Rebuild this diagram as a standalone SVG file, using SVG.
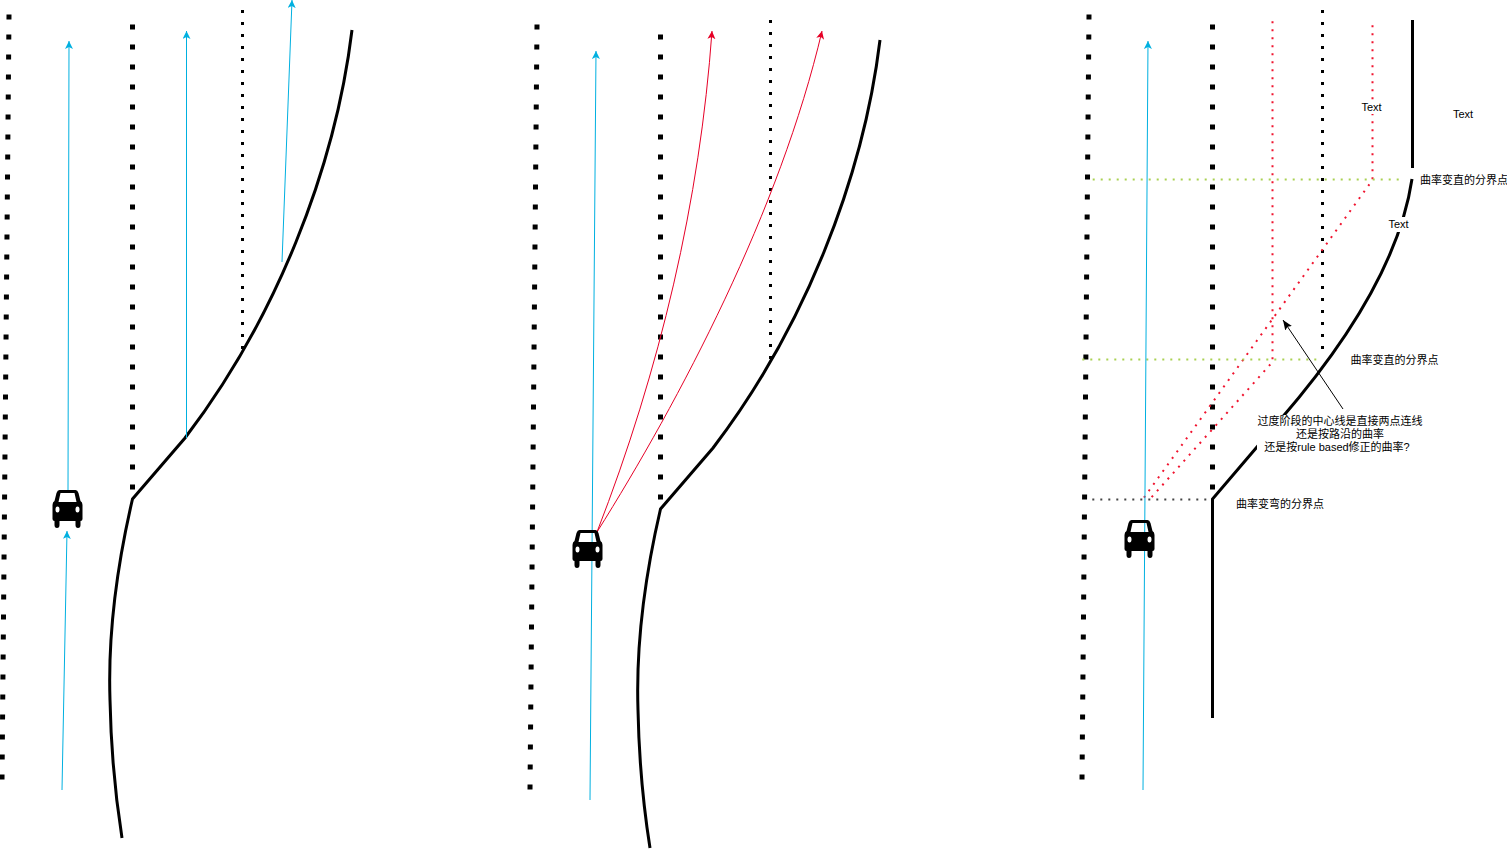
<svg xmlns="http://www.w3.org/2000/svg" width="1507" height="851" viewBox="0 0 1507 851">
<style>
.big{fill:none;stroke:#000;stroke-width:5;stroke-dasharray:5 15}
.small{fill:none;stroke:#000;stroke-width:3;stroke-dasharray:3 9}
.road{fill:none;stroke:#000;stroke-width:3}
.blue{fill:none;stroke:#00b0e0;stroke-width:1;marker-end:url(#ab)}
.red{fill:none;stroke:#e60026;stroke-width:1;marker-end:url(#ar)}
.rd{fill:none;stroke:#f0142f;stroke-width:2;stroke-dasharray:2 6}
.gd{fill:none;stroke:#a9d152;stroke-width:2;stroke-dasharray:2 6}
.kd{fill:none;stroke:#444;stroke-width:2;stroke-dasharray:2 6}
text{font-family:"Liberation Sans","Noto Sans CJK SC",sans-serif;font-size:11px;fill:#000;text-anchor:middle}
.mask{fill:#fff}
</style>
<defs>
<marker id="ab" markerUnits="userSpaceOnUse" markerWidth="10" markerHeight="10" refX="8" refY="4" orient="auto"><path d="M0 0L8 4L0 8L2 4Z" fill="#00b0e0"/></marker>
<marker id="ar" markerUnits="userSpaceOnUse" markerWidth="10" markerHeight="10" refX="8" refY="4" orient="auto"><path d="M0 0L8 4L0 8L2 4Z" fill="#e60026"/></marker>
<marker id="ak" markerUnits="userSpaceOnUse" markerWidth="12" markerHeight="10" refX="10" refY="4" orient="auto"><path d="M0 0L10 4L0 8L2 4Z" fill="#000"/></marker>
<symbol id="car" overflow="visible" viewBox="-15 0 30 38" width="30" height="38">
<path fill="#000" fill-rule="evenodd" d="M-8 0H8Q10 0 11 3L13 11Q15 12 15 15V29Q15 31 13 31V35Q13 38 10.500 38Q8 38 8 35V31H-8V35Q-8 38 -10.500 38Q-13 38 -13 35V31Q-15 31 -15 29V15Q-15 12 -13 11L-11 3Q-10 0 -8 0ZM-7 3L-9 12H9L7 3ZM-10 16.500A2 3 0 1 0 -10 22.500A2 3 0 1 0 -10 16.500ZM10 16.500A2 3 0 1 0 10 22.500A2 3 0 1 0 10 16.500Z"/>
</symbol>
</defs>

<g id="connectors">
<!-- panel 1 -->
<path class="big" d="M9 14.500L2 780"/>
<path class="big" d="M132.500 24.500V490"/>
<path class="small" d="M242.500 10V350"/>
<path class="road" d="M352 30C335 170 275 320 185 438L132.500 499C116 570 108 640 110 700C111 750 116 800 122 838"/>
<path class="blue" d="M62 790L67 531"/>
<path class="blue" d="M68 490L69 41"/>
<path class="blue" d="M186.500 438V31"/>
<path class="blue" d="M282 262L292 0"/>
<!-- panel 2 -->
<path class="big" d="M537 24.500L530 790"/>
<path class="big" d="M660.500 34.500V500"/>
<path class="small" d="M770.500 20V360"/>
<path class="road" d="M880 40C863 180 803 330 713 448L660.500 509C644 580 636 650 638 710C639 760 644 810 650 848"/>
<path class="blue" d="M590 800L596 51"/>
<path class="red" d="M597 532C660 370 700 200 712 31"/>
<path class="red" d="M597 532C680 400 780 210 822 31"/>
<!-- panel 3 -->
<path class="big" d="M1089 14.500L1082 780"/>
<path class="big" d="M1212.500 24.500V490"/>
<path class="small" d="M1322.500 10V350"/>
<path class="road" d="M1412.500 20V168"/>
<path class="road" d="M1412 179C1400 260 1345 345 1280 420L1212.500 499V718"/>
<path class="rd" d="M1272.500 21.300V362L1150 499"/>
<path class="rd" d="M1372.500 25.300V180L1143 499"/>
<path class="gd" d="M1092.700 179.500H1399"/>
<path class="gd" d="M1082.300 359.500H1317"/>
<path class="kd" d="M1092.300 499.500H1207"/>
<path class="blue" d="M1143 790L1148 41"/>
<path fill="none" stroke="#000" stroke-width="1" marker-end="url(#ak)" d="M1343 409L1283 320"/>
</g>

<g id="car1"><use href="#car" x="52.500" y="490"/></g>
<g id="car2"><use href="#car" x="572.500" y="530"/></g>
<g id="car3"><use href="#car" x="1124.500" y="520"/></g>

<g id="label-text1"><rect class="mask" x="1361" y="100" width="21" height="14"/><text x="1371.500" y="111">Text</text></g>
<g id="label-text2"><text x="1463" y="118">Text</text></g>
<g id="label-text3"><rect class="mask" x="1386" y="217" width="24" height="15"/><text x="1398.500" y="228">Text</text></g>
<g id="label-straight1"><text x="1464" y="184">曲率变直的分界点</text></g>
<g id="label-straight2"><text x="1394.500" y="364">曲率变直的分界点</text></g>
<g id="label-bend"><text x="1280" y="508">曲率变弯的分界点</text></g>
<g id="label-question"><rect class="mask" x="1257" y="415" width="166" height="38"/>
<text x="1340" y="425">过度阶段的中心线是直接两点连线</text>
<text x="1340" y="438">还是按路沿的曲率</text>
<text x="1337" y="451">还是按rule based修正的曲率?</text></g>
</svg>
